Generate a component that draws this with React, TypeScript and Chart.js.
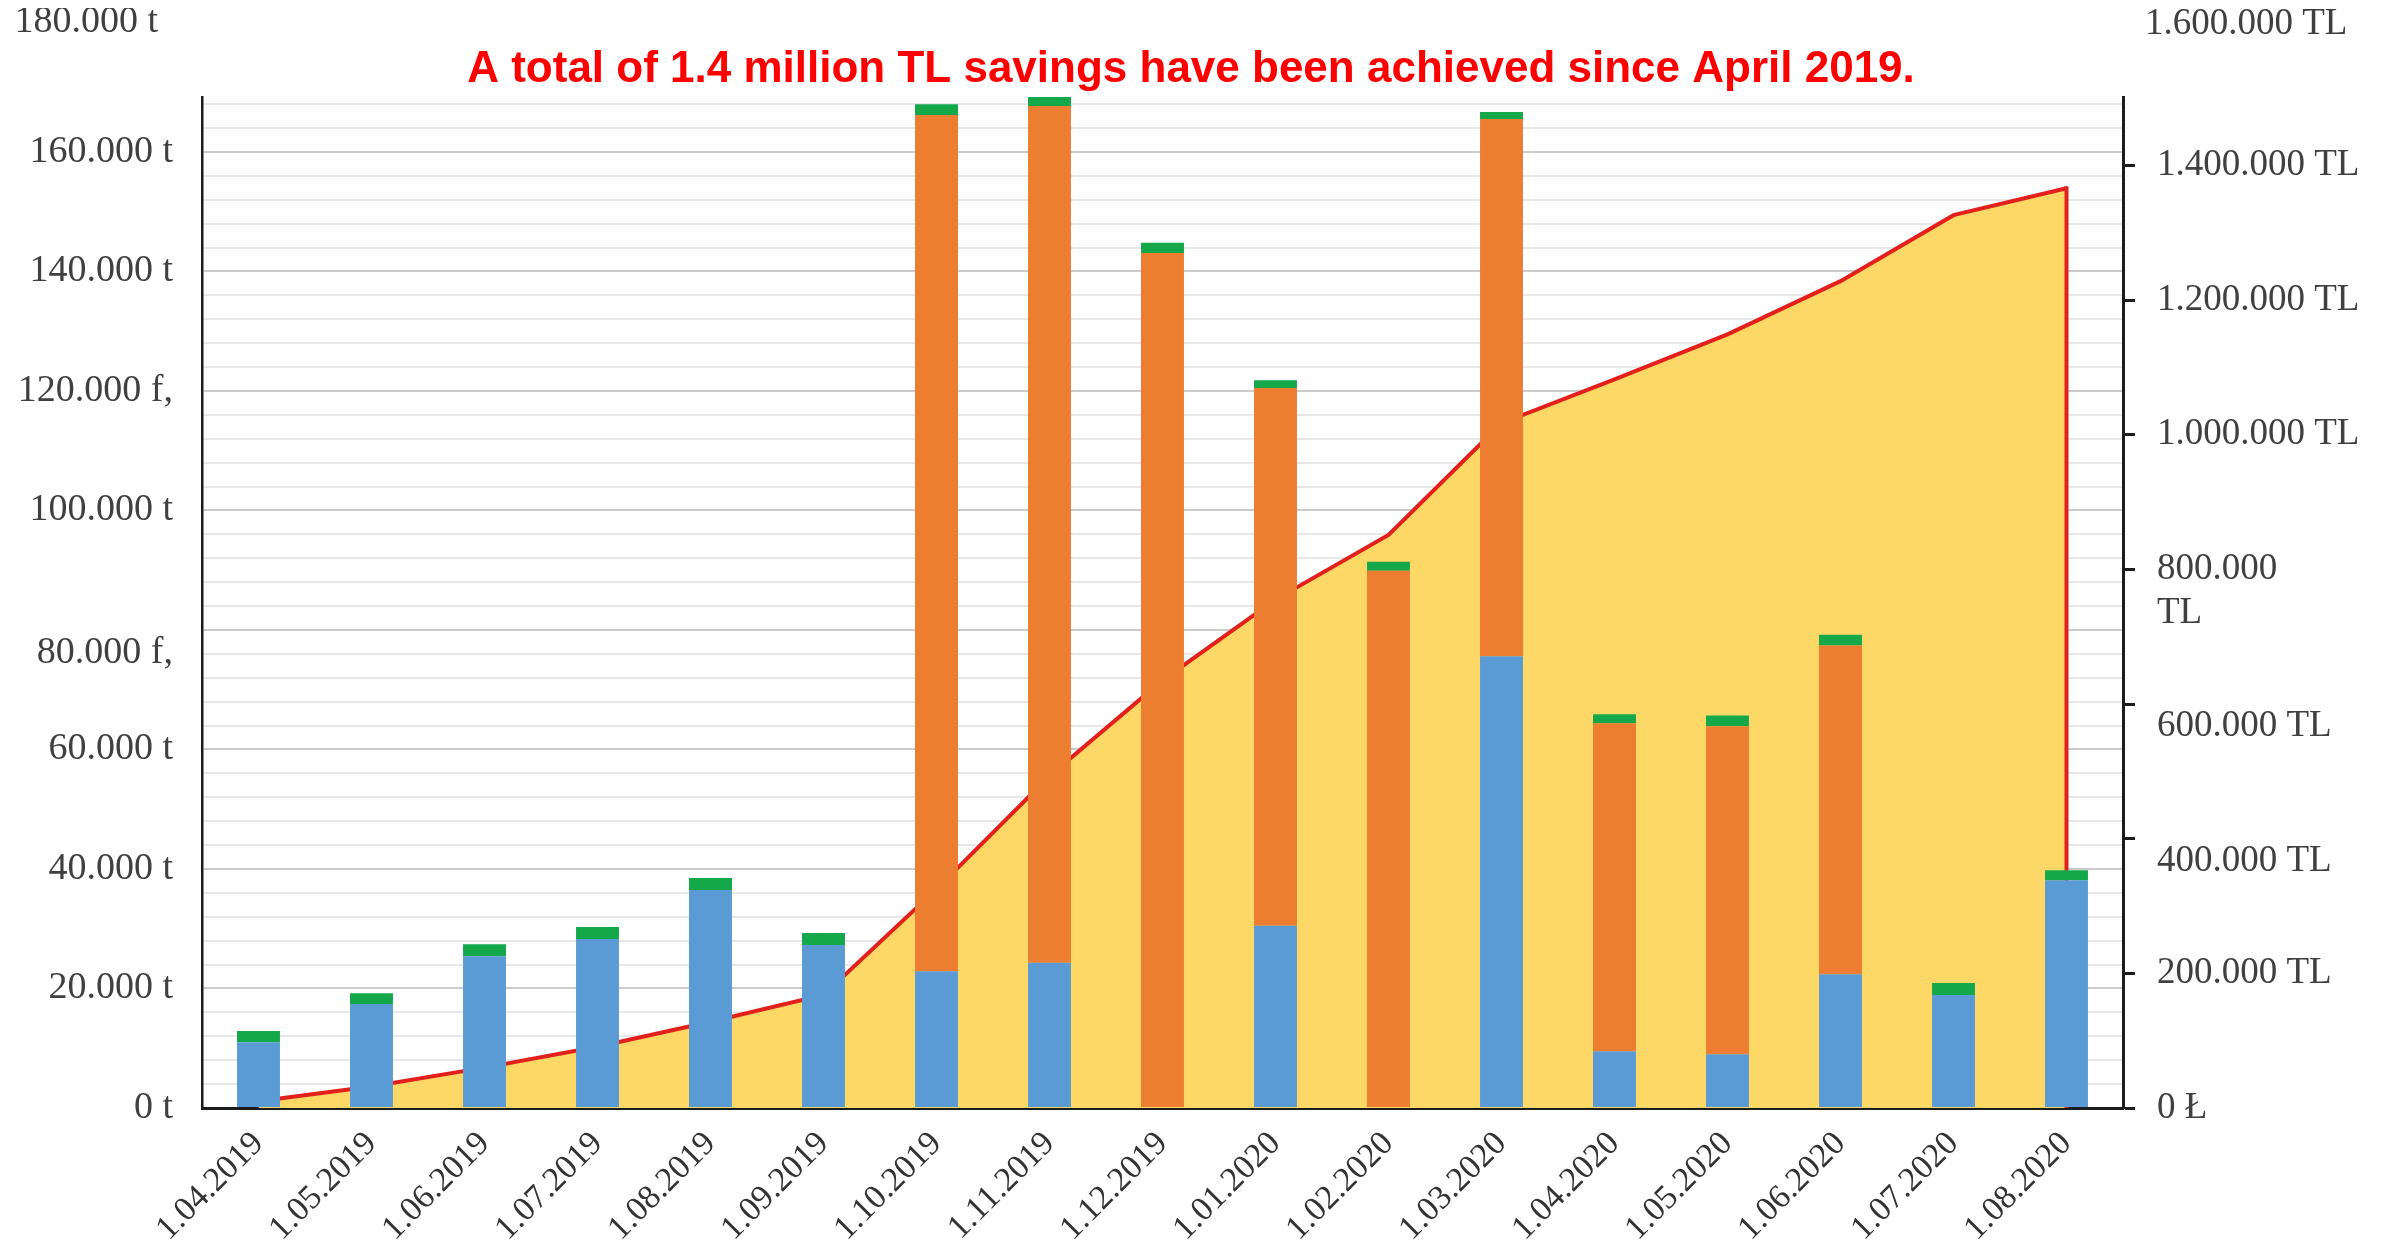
import React, { useEffect, useRef } from 'react';
import { Chart, registerables } from 'chart.js';

Chart.register(...registerables);

// ---------- data ----------
const categories = [
  '1.04.2019', '1.05.2019', '1.06.2019', '1.07.2019', '1.08.2019', '1.09.2019',
  '1.10.2019', '1.11.2019', '1.12.2019', '1.01.2020', '1.02.2020', '1.03.2020',
  '1.04.2020', '1.05.2020', '1.06.2020', '1.07.2020', '1.08.2020',
];

// tonnes (left axis)
const blueValues = [11000, 17400, 25400, 28300, 36500, 27300, 22900, 24300, 0, 30500, 0, 75600, 9500, 9000, 22400, 18900, 38100];
const orangeValues = [0, 0, 0, 0, 0, 0, 143300, 143400, 143100, 90000, 89900, 89900, 54900, 54900, 55000, 0, 0];
const greenValues = [1900, 1800, 2000, 2000, 2000, 2000, 1800, 1600, 1700, 1300, 1500, 1200, 1500, 1800, 1800, 2000, 1700];

// cumulative savings, TL (right axis)
const savingsTL = [10000, 32000, 60000, 91000, 128000, 168000, 325000, 493000, 635000, 755000, 851000, 1017000, 1082000, 1149000, 1228000, 1326000, 1366000];

const leftTickValues = [0, 20000, 40000, 60000, 80000, 100000, 120000, 140000, 160000];
const leftTickLabels: (string | string[])[] = ['0 t', '20.000 t', '40.000 t', '60.000 t', ['', '80.000 f,'], '100.000 t', '120.000 f,', '140.000 t', '160.000 t'];
const leftMinorStep = 4000;
const leftTopValue = 180000;
const leftTopLabel = '180.000 t';

const rightTickValues = [0, 200000, 400000, 600000, 800000, 1000000, 1200000, 1400000];
const rightTickLabels: (string | string[])[] = ['0 Ł', '200.000 TL', ['', '400.000 TL'], ['', '600.000 TL'], ['', '800.000', 'TL'], '1.000.000 TL', '1.200.000 TL', '1.400.000 TL'];
const rightTopValue = 1600000;
const rightTopLabel = '1.600.000 TL';

const titleText = 'A total of 1.4 million TL savings have been achieved since April 2019.';

// ---------- styles ----------
const BLUE = '#5B9BD5';
const ORANGE = '#ED7D31';
const GREEN = '#15A84B';
const AREA = '#FED866';
const RED = '#E3201B';
const AXIS = '#1c1c1c';
const TEXT = '#404040';
const SERIF = '"Liberation Serif", "Times New Roman", serif';
const LEFT_FONT = 38;
const RIGHT_FONT = 37;

const W = 2366;
const H = 1233;
const LEFT_MAX = 169200;
const RIGHT_MAX = 1501500;

const extrasPlugin = {
  id: 'extras',
  afterDatasetDraw(chart: any, args: any) {
    if (args.index !== 3) return;
    const meta = chart.getDatasetMeta(3);
    const last = meta.data[meta.data.length - 1];
    if (!last) return;
    const y1 = chart.scales.y1;
    const ctx = chart.ctx;
    ctx.save();
    ctx.strokeStyle = RED;
    ctx.lineWidth = 4;
    ctx.lineCap = 'square';
    ctx.beginPath();
    ctx.moveTo(last.x, last.y);
    ctx.lineTo(last.x, y1.getPixelForValue(0) - 2);
    ctx.stroke();
    ctx.restore();
  },
  afterDraw(chart: any) {
    const ctx = chart.ctx;
    const y = chart.scales.y;
    const y1 = chart.scales.y1;
    ctx.save();
    ctx.fillStyle = TEXT;
    ctx.textBaseline = 'middle';
    ctx.font = `${LEFT_FONT}px ${SERIF}`;
    ctx.textAlign = 'right';
    ctx.fillText(leftTopLabel, y.right - 44, y.getPixelForValue(leftTopValue) - 10);
    ctx.font = `${RIGHT_FONT}px ${SERIF}`;
    ctx.textAlign = 'left';
    ctx.fillText(rightTopLabel, y1.left + 22, y1.getPixelForValue(rightTopValue) - 6);
    ctx.restore();
  },
};

function leftGridValues(): number[] {
  const out: number[] = [];
  for (let v = 0; v <= LEFT_MAX; v += leftMinorStep) out.push(v);
  return out;
}

export default function App() {
  const ref = useRef<HTMLCanvasElement | null>(null);

  useEffect(() => {
    if (!ref.current) return;
    const chart = new Chart(ref.current, {
      type: 'bar',
      data: {
        labels: categories,
        datasets: [
          { type: 'bar', label: 'blue', data: blueValues, backgroundColor: BLUE, yAxisID: 'y', order: 0, barPercentage: 0.38, categoryPercentage: 1 },
          { type: 'bar', label: 'orange', data: orangeValues, backgroundColor: ORANGE, yAxisID: 'y', order: 0, barPercentage: 0.38, categoryPercentage: 1 },
          { type: 'bar', label: 'green', data: greenValues, backgroundColor: GREEN, yAxisID: 'y', order: 0, barPercentage: 0.38, categoryPercentage: 1 },
          {
            type: 'line', label: 'TL', data: savingsTL, yAxisID: 'y1', order: 1,
            borderColor: RED, borderWidth: 4, backgroundColor: AREA, fill: 'origin',
            pointRadius: 0, tension: 0,
          } as any,
        ],
      },
      options: {
        responsive: false,
        animation: false,
        devicePixelRatio: 1,
        layout: { padding: 0 },
        plugins: {
          legend: { display: false },
          tooltip: { enabled: false },
          title: {
            display: true,
            text: titleText,
            color: '#FF0000',
            font: { family: '"Liberation Sans", Arial, sans-serif', size: 44, weight: 'bold' },
            padding: { top: 35, bottom: 1.2 },
          },
        },
        scales: {
          x: {
            stacked: true,
            grid: { display: false },
            border: { display: true, color: AXIS, width: 3 },
            ticks: {
              autoSkip: false,
              minRotation: 45,
              maxRotation: 45,
              padding: 8,
              color: '#333333',
              font: { family: SERIF, size: 34 },
            },
            afterFit: (s: any) => { s.height = 133; },
          },
          y: {
            position: 'left',
            stacked: true,
            min: 0,
            max: LEFT_MAX,
            grid: {
              drawTicks: false,
              color: (c: any) => (c.tick && leftTickValues.indexOf(Math.round(c.tick.value)) >= 0 ? '#cbcbcb' : '#e8e8e8'),
              lineWidth: 2,
            },
            border: { display: true, color: AXIS, width: 2.5 },
            ticks: {
              autoSkip: false,
              padding: 29,
              color: TEXT,
              font: { family: SERIF, size: LEFT_FONT },
            },
            afterBuildTicks: (s: any) => {
              s.ticks = leftGridValues().map((v) => ({ value: v }));
            },
            afterTickToLabelConversion: (s: any) => {
              s.ticks.forEach((t: any) => {
                const i = leftTickValues.indexOf(Math.round(t.value));
                t.label = i >= 0 ? leftTickLabels[i] : '';
              });
            },
            afterFit: (s: any) => { s.width = 194; },
          },
          y1: {
            position: 'right',
            min: 0,
            max: RIGHT_MAX,
            grid: {
              drawOnChartArea: false,
              drawTicks: true,
              tickLength: 12,
              tickWidth: 3,
              tickColor: AXIS,
            },
            border: { display: true, color: AXIS, width: 3 },
            ticks: {
              autoSkip: false,
              padding: 22,
              color: TEXT,
              font: { family: SERIF, size: RIGHT_FONT },
            },
            afterBuildTicks: (s: any) => {
              s.ticks = rightTickValues.map((v) => ({ value: v }));
            },
            afterTickToLabelConversion: (s: any) => {
              s.ticks.forEach((t: any) => {
                const i = rightTickValues.indexOf(Math.round(t.value));
                t.label = i >= 0 ? rightTickLabels[i] : '';
              });
            },
            afterFit: (s: any) => { s.width = 251; },
          },
        },
      },
      plugins: [extrasPlugin],
    } as any);
    return () => chart.destroy();
  }, []);

  return (
    <div style={{ width: W, height: H, background: '#ffffff' }}>
      <canvas ref={ref} width={W} height={H} style={{ display: 'block' }} />
    </div>
  );
}
